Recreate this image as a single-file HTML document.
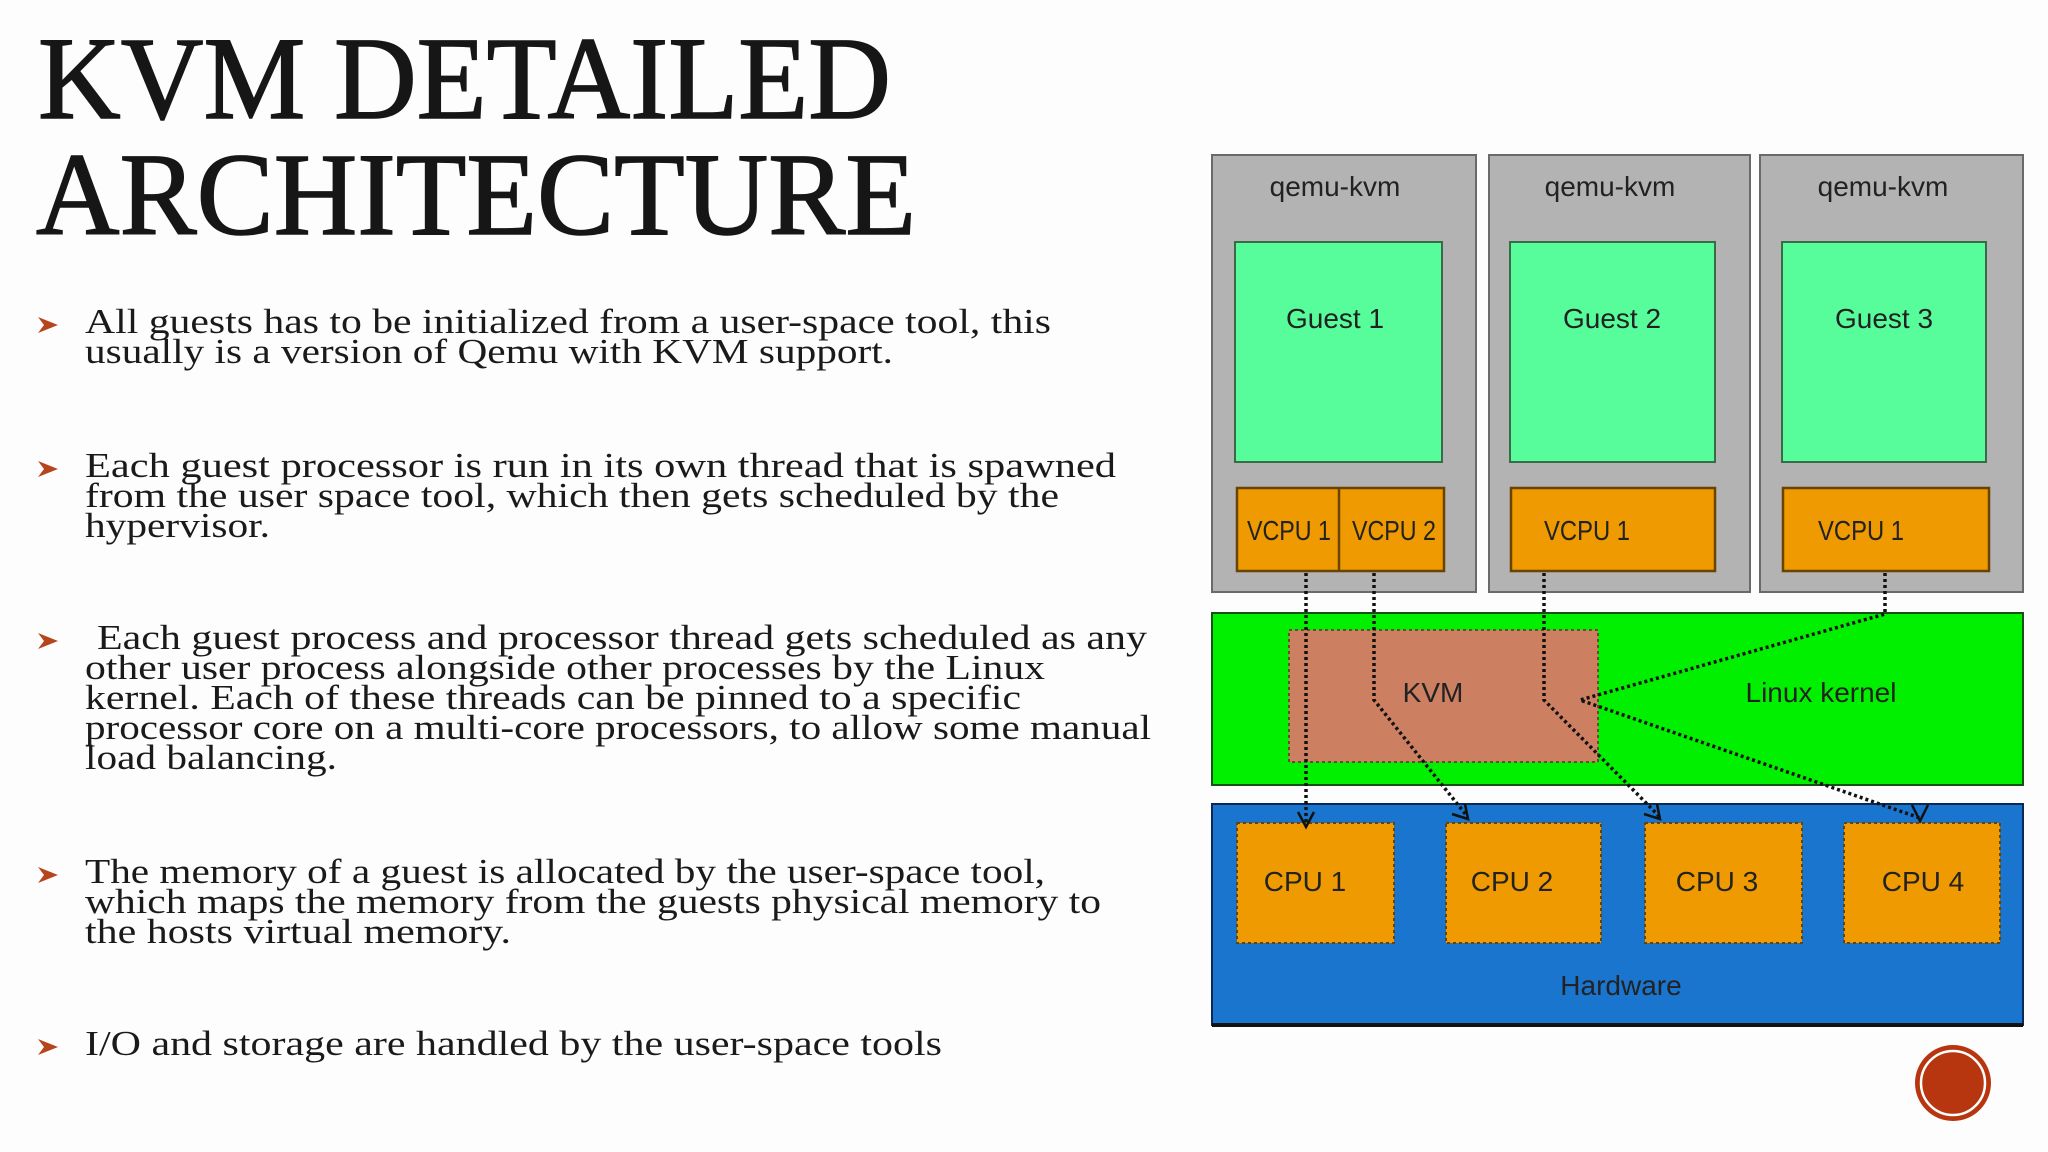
<!DOCTYPE html>
<html><head><meta charset="utf-8"><style>
html,body{margin:0;padding:0;background:#fdfdfd;}
svg{display:block;}
.t{font-family:"Liberation Serif",serif;fill:#161616;}
.b{font-family:"Liberation Serif",serif;font-size:35px;fill:#1a1a1a;}
.d{font-family:"Liberation Sans","DejaVu Sans",sans-serif;font-size:28px;fill:#222;text-anchor:middle;}
</style></head><body>
<svg width="2048" height="1152" viewBox="0 0 2048 1152" xmlns="http://www.w3.org/2000/svg">
<rect width="2048" height="1152" fill="#fdfdfd"/>
<text class="t" x="38" y="118" font-size="118" stroke="#161616" stroke-width="1.5" textLength="853" lengthAdjust="spacingAndGlyphs">KVM DETAILED</text>
<text class="t" x="36" y="234" font-size="118" stroke="#161616" stroke-width="1.5" textLength="880" lengthAdjust="spacingAndGlyphs">ARCHITECTURE</text>
<g fill="#b5451b">
<path d="M38 317 l20 8 l-20 8 l6 -8z"/>
<path d="M38 461 l20 8 l-20 8 l6 -8z"/>
<path d="M38 633 l20 8 l-20 8 l6 -8z"/>
<path d="M38 867 l20 8 l-20 8 l6 -8z"/>
<path d="M38 1039 l20 8 l-20 8 l6 -8z"/>
</g>
<g class="b">
<text x="85" y="333" textLength="966" lengthAdjust="spacingAndGlyphs">All guests has to be initialized from a user-space tool, this</text>
<text x="85" y="363" textLength="808" lengthAdjust="spacingAndGlyphs">usually is a version of Qemu with KVM support.</text>
<text x="85" y="477" textLength="1031" lengthAdjust="spacingAndGlyphs">Each guest processor is run in its own thread that is spawned</text>
<text x="85" y="507" textLength="974" lengthAdjust="spacingAndGlyphs">from the user space tool, which then gets scheduled by the</text>
<text x="85" y="537" textLength="185" lengthAdjust="spacingAndGlyphs">hypervisor.</text>
<text x="97" y="649" textLength="1050" lengthAdjust="spacingAndGlyphs">Each guest process and processor thread gets scheduled as any</text>
<text x="85" y="679" textLength="960" lengthAdjust="spacingAndGlyphs">other user process alongside other processes by the Linux</text>
<text x="85" y="709" textLength="936" lengthAdjust="spacingAndGlyphs">kernel. Each of these threads can be pinned to a specific</text>
<text x="85" y="739" textLength="1066" lengthAdjust="spacingAndGlyphs">processor core on a multi-core processors, to allow some manual</text>
<text x="85" y="769" textLength="252" lengthAdjust="spacingAndGlyphs">load balancing.</text>
<text x="85" y="883" textLength="960" lengthAdjust="spacingAndGlyphs">The memory of a guest is allocated by the user-space tool,</text>
<text x="85" y="913" textLength="1016" lengthAdjust="spacingAndGlyphs">which maps the memory from the guests physical memory to</text>
<text x="85" y="943" textLength="426" lengthAdjust="spacingAndGlyphs">the hosts virtual memory.</text>
<text x="85" y="1055" textLength="857" lengthAdjust="spacingAndGlyphs">I/O and storage are handled by the user-space tools</text>
</g>
<!-- diagram -->
<g stroke="#6a6a6a" stroke-width="2" fill="#b3b3b3">
<rect x="1212" y="155" width="264" height="437"/>
<rect x="1489" y="155" width="261" height="437"/>
<rect x="1760" y="155" width="263" height="437"/>
</g>
<g stroke="#3a6a4a" stroke-width="2" fill="#57fd9b">
<rect x="1235" y="242" width="207" height="220"/>
<rect x="1510" y="242" width="205" height="220"/>
<rect x="1782" y="242" width="204" height="220"/>
</g>
<g stroke="#6a4300" stroke-width="2.5" fill="#ee9a00">
<rect x="1237" y="488" width="207" height="83"/>
<line x1="1339" y1="488" x2="1339" y2="571"/>
<rect x="1511" y="488" width="204" height="83"/>
<rect x="1783" y="488" width="206" height="83"/>
</g>
<rect x="1212" y="613" width="811" height="172" fill="#00f000" stroke="#155015" stroke-width="2"/>
<rect x="1289" y="630" width="309" height="132" fill="#cd7f62" stroke="#6a4a30" stroke-width="2" stroke-dasharray="3 3"/>
<rect x="1212" y="804" width="811" height="221" fill="#1a75cf" stroke="#0a2a55" stroke-width="2"/>
<line x1="1212" y1="1025" x2="2023" y2="1025" stroke="#111" stroke-width="4"/>
<g fill="#ee9a00" stroke="#6a4300" stroke-width="2" stroke-dasharray="3 3">
<rect x="1237" y="823" width="157" height="120"/>
<rect x="1446" y="823" width="155" height="120"/>
<rect x="1645" y="823" width="157" height="120"/>
<rect x="1844" y="823" width="156" height="120"/>
</g>
<g class="d">
<text x="1335" y="196">qemu-kvm</text>
<text x="1610" y="196">qemu-kvm</text>
<text x="1883" y="196">qemu-kvm</text>
<text x="1335" y="328">Guest 1</text>
<text x="1612" y="328">Guest 2</text>
<text x="1884" y="328">Guest 3</text>
<text x="1289" y="540" textLength="84" lengthAdjust="spacingAndGlyphs">VCPU 1</text>
<text x="1394" y="540" textLength="84" lengthAdjust="spacingAndGlyphs">VCPU 2</text>
<text x="1587" y="540" textLength="86" lengthAdjust="spacingAndGlyphs">VCPU 1</text>
<text x="1861" y="540" textLength="86" lengthAdjust="spacingAndGlyphs">VCPU 1</text>
<text x="1433" y="702">KVM</text>
<text x="1821" y="702">Linux kernel</text>
<text x="1305" y="891">CPU 1</text>
<text x="1512" y="891">CPU 2</text>
<text x="1717" y="891">CPU 3</text>
<text x="1923" y="891">CPU 4</text>
<text x="1621" y="995">Hardware</text>
</g>
<g fill="none" stroke="#111" stroke-width="3.5" stroke-dasharray="3 3">
<polyline points="1306,573 1306,824"/>
<polyline points="1374,573 1374,700 1467,816"/>
<polyline points="1544,573 1544,700 1659,816"/>
<polyline points="1885,573 1885,614 1580,700 1920,818"/>
</g>
<g fill="none" stroke="#111" stroke-width="2.5">
<polyline points="1298,812 1306,827 1314,812"/>
<polyline points="1452,814 1468,819 1465,804"/>
<polyline points="1644,814 1660,819 1657,804"/>
<polyline points="1912,805 1920,821 1928,805"/>
</g>
<circle cx="1953" cy="1083" r="38" fill="#b8360f"/>
<circle cx="1953" cy="1083" r="32" fill="none" stroke="#fff" stroke-width="2.5"/>
</svg>
</body></html>
